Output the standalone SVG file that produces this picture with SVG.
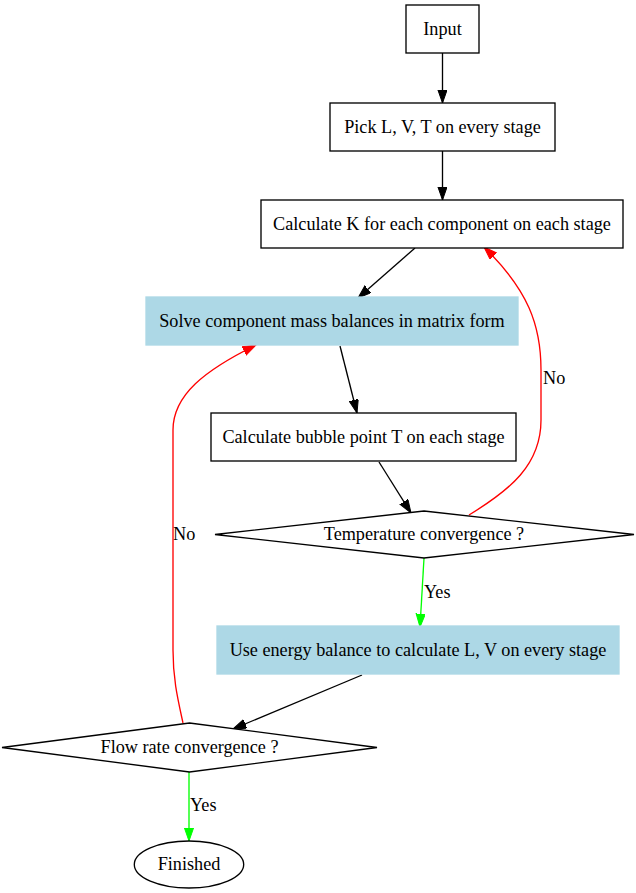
<svg xmlns="http://www.w3.org/2000/svg" width="636" height="893" viewBox="0 0 636 893">
<defs>
<style>
.n{fill:#fff;stroke:#000;stroke-width:1.33}
.f{fill:#add8e6;stroke:#add8e6;stroke-width:1.33}
text{font-family:"Liberation Serif","Times New Roman",serif;font-size:18.2px;fill:#000}
.c{text-anchor:middle}
.e{fill:none;stroke-width:1.33}
.k{stroke:#000}
.r{stroke:#f00}
.g{stroke:#0f0}
</style>
<marker id="ak" markerUnits="userSpaceOnUse" markerWidth="14" markerHeight="10" refX="13.3" refY="4.67" orient="auto" viewBox="0 0 14 10"><path d="M0,0 L13.3,4.67 L0,9.33 z" fill="#000" stroke="#000"/></marker>
<marker id="ar" markerUnits="userSpaceOnUse" markerWidth="14" markerHeight="10" refX="13.3" refY="4.67" orient="auto" viewBox="0 0 14 10"><path d="M0,0 L13.3,4.67 L0,9.33 z" fill="#f00" stroke="#f00"/></marker>
<marker id="ag" markerUnits="userSpaceOnUse" markerWidth="14" markerHeight="10" refX="13.3" refY="4.67" orient="auto" viewBox="0 0 14 10"><path d="M0,0 L13.3,4.67 L0,9.33 z" fill="#0f0" stroke="#0f0"/></marker>
</defs>
<rect width="636" height="893" fill="#fff"/>
<g id="edges">
<path class="e k" d="M442.5,53 L442.5,103" marker-end="url(#ak)"/>
<path class="e k" d="M442.5,151 L442.5,200" marker-end="url(#ak)"/>
<path class="e k" d="M415,248 L358,298" marker-end="url(#ak)"/>
<path class="e k" d="M340,346 L357,413" marker-end="url(#ak)"/>
<path class="e k" d="M379,462 L411,513" marker-end="url(#ak)"/>
<path class="e g" d="M424,558 L420,627" marker-end="url(#ag)"/>
<text x="424" y="598">Yes</text>
<path class="e k" d="M362,675 L233,729" marker-end="url(#ak)"/>
<path class="e g" d="M189,772 L189,841" marker-end="url(#ag)"/>
<text x="190" y="811">Yes</text>
<path class="e r" d="M469,515 C510,490 541,465 541,420 L541,370 C541,325 528,290 484,247" marker-end="url(#ar)"/>
<text x="543" y="384">No</text>
<path class="e r" d="M183,723 C178,700 173,680 173,650 L173,430 C173,395 205,370 256,345" marker-end="url(#ar)"/>
<text x="173" y="540">No</text>
</g>
<g id="input"><rect class="n" x="406" y="5" width="73" height="48"/><text class="c" x="442.5" y="34.5">Input</text></g>
<g id="pick"><rect class="n" x="330" y="103" width="225" height="48"/><text class="c" x="442.5" y="132.5">Pick L, V, T on every stage</text></g>
<g id="calck"><rect class="n" x="261" y="200" width="362" height="48"/><text class="c" x="442" y="229.5">Calculate K for each component on each stage</text></g>
<g id="solve"><rect class="f" x="146" y="297" width="372" height="48"/><text class="c" x="332" y="326.5">Solve component mass balances in matrix form</text></g>
<g id="bubble"><rect class="n" x="211" y="413" width="305" height="48"/><text class="c" x="363.5" y="442.5">Calculate bubble point T on each stage</text></g>
<g id="temp"><polygon class="n" points="424,511 634,534.5 424,558 215,534.5"/><text class="c" x="424" y="540">Temperature convergence ?</text></g>
<g id="energy"><rect class="f" x="217" y="626" width="402" height="48"/><text class="c" x="418" y="655.5">Use energy balance to calculate L, V on every stage</text></g>
<g id="flow"><polygon class="n" points="189.5,723 377,747.5 189.5,772 2,747.5"/><text class="c" x="189.5" y="753">Flow rate convergence ?</text></g>
<g id="finished"><ellipse class="n" cx="189" cy="864.5" rx="54.7" ry="23.5"/><text class="c" x="189" y="870">Finished</text></g>
</svg>
